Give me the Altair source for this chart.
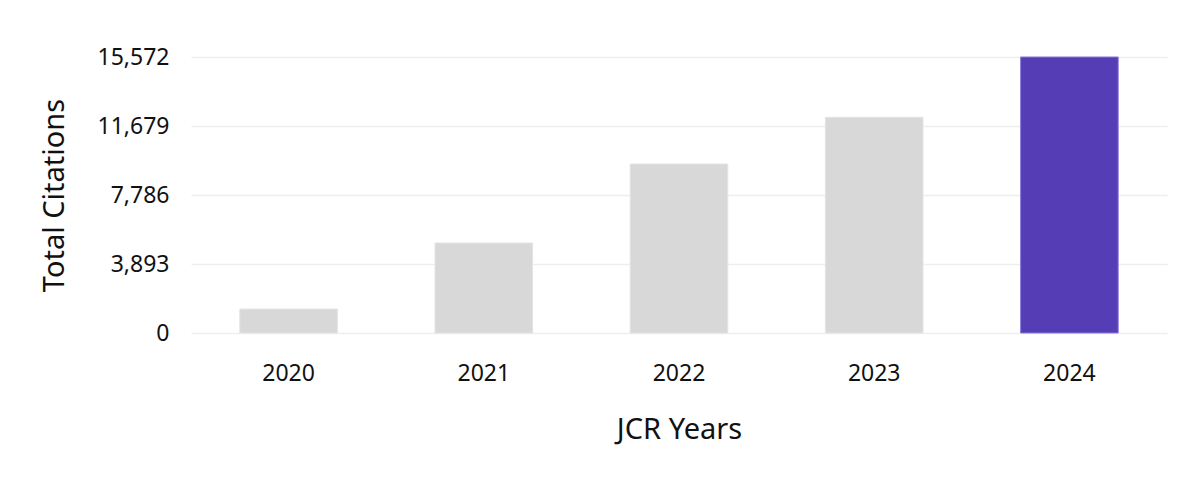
import altair as alt
import pandas as pd

years = ["2020", "2021", "2022", "2023", "2024"]
citations = [1354, 5078, 9535, 12170, 15572]
colors = ["#d8d8d8", "#d8d8d8", "#d8d8d8", "#d8d8d8", "#553db6"]
strokes = ["#e4e4e4", "#e4e4e4", "#e4e4e4", "#e4e4e4", "#8a7ad8"]
y_ticks = [0, 3893, 7786, 11679, 15572]

df = pd.DataFrame({"year": years, "citations": citations, "color": colors, "stroke": strokes})

FONT = "Noto Sans"

chart = (
    alt.Chart(df)
    .mark_bar(strokeWidth=1)
    .encode(
        x=alt.X(
            "year:N",
            title="JCR Years",
            sort=years,
            scale=alt.Scale(paddingInner=0.5, paddingOuter=0.25),
            axis=alt.Axis(
                labelAngle=0,
                labelFontSize=23,
                labelColor="#111111",
                labelPadding=29,
                titleFontSize=29,
                titleFontWeight="normal",
                titleColor="#111111",
                titlePadding=30,
                ticks=False,
                domain=False,
                grid=False,
                labelFont=FONT,
                titleFont=FONT,
            ),
        ),
        y=alt.Y(
            "citations:Q",
            title="Total Citations",
            scale=alt.Scale(domain=[0, 15572], nice=False),
            axis=alt.Axis(
                values=y_ticks,
                format=",d",
                labelFontSize=23,
                labelColor="#111111",
                labelPadding=22,
                titleFontSize=29,
                titleFontWeight="normal",
                titleColor="#111111",
                titlePadding=28,
                ticks=False,
                domain=False,
                gridColor="#eeeeee",
                gridWidth=1.5,
                labelFont=FONT,
                titleFont=FONT,
            ),
        ),
        color=alt.Color("color:N", scale=None),
        stroke=alt.Stroke("stroke:N", scale=None),
    )
    .properties(width=976, height=276, padding={"left": 32, "top": 38, "right": 20, "bottom": 10})
    .configure_view(stroke=None)
)

chart.save("out.html", embed_options={"renderer": "svg", "actions": False})
